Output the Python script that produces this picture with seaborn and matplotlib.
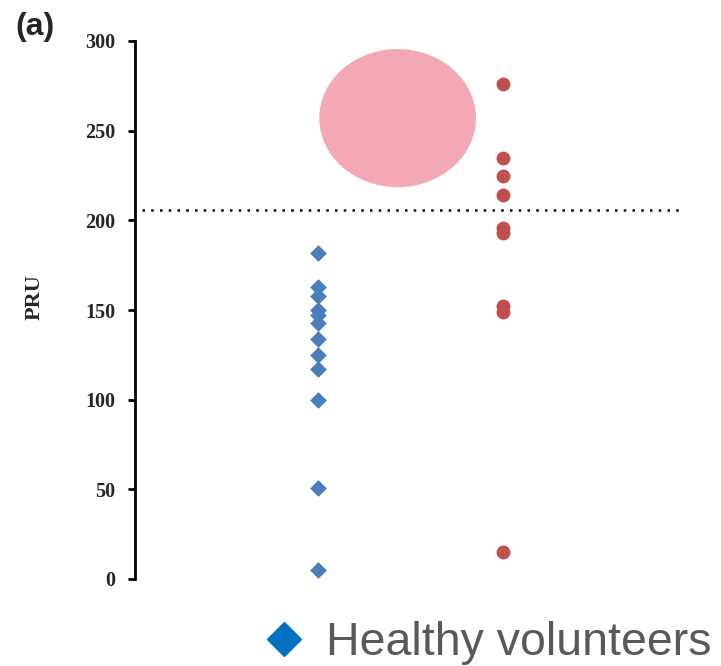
import pandas as pd
import numpy as np
import matplotlib.pyplot as plt
import seaborn as sns
from matplotlib.patches import Ellipse
from matplotlib.lines import Line2D

# PRU values
healthy_pru = [182, 163, 158, 150, 147, 143, 134, 125, 117, 100, 51, 5]
patient_pru = [276, 235, 225, 214, 196, 193, 152, 149, 15]
groups = ["Healthy volunteers", "Patients"]
cutoff = 206
y_ticks = [0, 50, 100, 150, 200, 250, 300]

df = pd.DataFrame({
    "group": [groups[0]] * len(healthy_pru) + [groups[1]] * len(patient_pru),
    "PRU": healthy_pru + patient_pru,
})

sns.set_style("white")
fig = plt.figure(figsize=(7.21, 6.66), dpi=100)
ax = fig.add_axes([135 / 721, 87 / 666, 552 / 721, 538 / 666])

sns.stripplot(data=df[df.group == groups[0]], x="group", y="PRU", order=groups,
              jitter=False, marker="D", size=8.5, color="#4A7EBB",
              linewidth=0, ax=ax)
sns.stripplot(data=df[df.group == groups[1]], x="group", y="PRU", order=groups,
              jitter=False, marker="o", size=10, color="#C0504D",
              linewidth=0, ax=ax)

# cut-off line
ax.axhline(cutoff, xmin=0.013, xmax=0.99, color="black", lw=1.8,
           linestyle=(0, (1, 2.5)))

# pink blob covering the upper middle
ax.add_patch(Ellipse((0.43, 257), width=0.85, height=77, color="#F4A8B5",
                     zorder=3, lw=0))

ax.set_xlim(-0.995, 2.0)
ax.set_ylim(0, 300)
ax.set_yticks(y_ticks)
ax.set_yticklabels([str(t) for t in y_ticks], fontfamily="Liberation Serif",
                   fontweight="bold", fontsize=14.5)
ax.set_xticks([])
ax.set_xlabel("")
ax.set_ylabel("PRU", fontfamily="Liberation Serif", fontweight="bold",
              fontsize=16)
ax.yaxis.set_label_coords(-0.163, 0.524)

for s in ["top", "right", "bottom"]:
    ax.spines[s].set_visible(False)
ax.spines["left"].set_linewidth(2)
ax.spines["left"].set_color("black")
ax.tick_params(axis="y", left=True, length=5, width=2, pad=9, color="black")

fig.text(15 / 721, 1 - 12 / 666, "(a)", fontfamily="Liberation Sans",
         fontweight="bold", fontsize=23, va="top", ha="left")

handle = Line2D([], [], marker="D", color="#0070C0", linestyle="none",
                markersize=17)
fig.legend([handle], [groups[0]], loc="lower left",
           bbox_to_anchor=(261 / 721, 1 / 666), frameon=False,
           prop={"family": "Liberation Sans", "size": 33.5},
           labelcolor="#595959", handletextpad=0.4, handlelength=1.0,
           borderpad=0, borderaxespad=0)

fig.savefig("out.png", dpi=100)
